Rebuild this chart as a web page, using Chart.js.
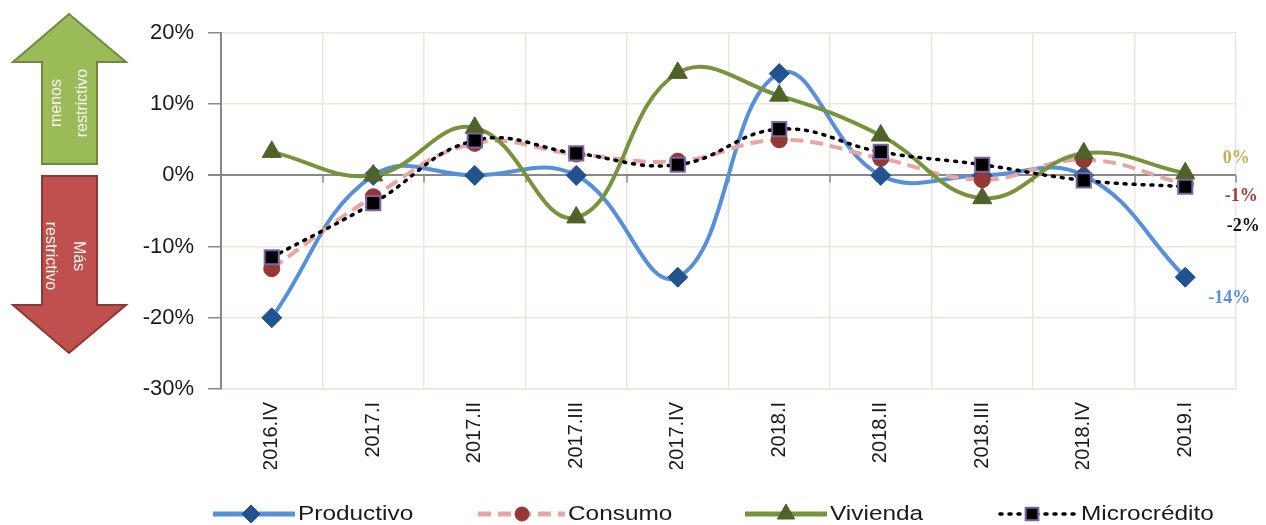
<!DOCTYPE html>
<html>
<head>
<meta charset="utf-8">
<script src="https://cdn.jsdelivr.net/npm/chart.js@4.4.1/dist/chart.umd.min.js"></script>
<style>
  html, body { margin: 0; padding: 0; background: #fff; }
</style>
</head>
<body>
<canvas id="chart" width="1266" height="525"></canvas>
<script>
'use strict';

// categories (quarters)
let quarters = ['2016.IV', '2017.I', '2017.II', '2017.III', '2017.IV', '2018.I', '2018.II', '2018.III', '2018.IV', '2019.I'];

// series values (% balance)
let productivo = [-20, 0, 0, 0, -14.3, 14.3, 0, 0, 0, -14.3];
let consumo = [-13.1, -3, 4.5, 3, 2, 5, 2.4, -0.6, 2.2, -1.2];
let vivienda = [3.3, 0, 6.7, -5.9, 14.4, 11.2, 5.6, -3.2, 3.1, 0.3];
let microcredito = [-11.5, -3.9, 4.9, 3.1, 1.5, 6.5, 3.3, 1.5, -0.7, -1.6];

// y axis range / ticks
let yMin = -30;
let yMax = 20;
let yStep = 10;

// legend + arrow texts
let seriesNames = ['Productivo', 'Consumo', 'Vivienda', 'Microcrédito'];
let upText = ['menos', 'restrictivo'];
let downText = ['Más', 'restrictivo'];

let gridColor = '#ebe7da';
let axisColor = '#888888';

// style for each series
let styles = [
    { line: '#5690d8', point: '#23538f', dash: [], shape: 'rectRot', r: 10, pBorder: '#23538f', pBw: 1 },
    { line: '#e7a5a3', point: '#953735', dash: [13, 7], shape: 'circle', r: 8, pBorder: '#953735', pBw: 1 },
    { line: '#77933c', point: '#4f6228', dash: [], shape: 'triangle', r: 11, pBorder: '#4f6228', pBw: 1 },
    { line: '#000000', point: '#000000', dash: [2, 7], shape: 'rect', r: 10, pBorder: '#8064a2', pBw: 2 }
];

// label color at the end of each line + offset from the last point
let endLabels = [
    { color: '#5b8fdc', dx: 44, dy: 21 },
    { color: '#a23b38', dx: 56, dy: 12 },
    { color: '#bdb45a', dx: 51, dy: -15 },
    { color: '#111111', dx: 58, dy: 40 }
];

let allData = [productivo, consumo, vivienda, microcredito];

function drawShape(ctx, pts, fill, stroke) {
    ctx.beginPath();
    ctx.moveTo(pts[0][0], pts[0][1]);
    for (let i = 1; i < pts.length; i++) {
        ctx.lineTo(pts[i][0], pts[i][1]);
    }
    ctx.closePath();
    ctx.fillStyle = fill;
    ctx.fill();
    ctx.lineWidth = 2;
    ctx.strokeStyle = stroke;
    ctx.stroke();
}

function stretchText(ctx, text, x, y, sx) {
    ctx.save();
    ctx.translate(x, y);
    ctx.scale(sx, 1);
    ctx.fillText(text, 0, 0);
    ctx.restore();
}

let extras = {
    id: 'extras',
    beforeDraw(chart) {
        let ctx = chart.ctx;
        ctx.save();
        ctx.fillStyle = '#fff';
        ctx.fillRect(0, 0, chart.width, chart.height);

        // green arrow (up) and red arrow (down)
        drawShape(ctx, [[42, 164], [42, 62], [13, 62], [69, 14], [126, 62], [97, 62], [97, 164]], '#9bbb59', '#71893f');
        drawShape(ctx, [[42, 176], [97, 176], [97, 305], [126, 305], [69, 353], [13, 305], [42, 305]], '#c0504d', '#8c3836');

        ctx.fillStyle = '#f6f6f0';
        ctx.font = '16px "Liberation Sans", Arial, sans-serif';
        ctx.textAlign = 'center';
        ctx.textBaseline = 'middle';

        ctx.save();
        ctx.translate(70, 103);
        ctx.rotate(-Math.PI / 2);
        ctx.fillText(upText[0], 0, -13);
        ctx.fillText(upText[1], 0, 13);
        ctx.restore();

        ctx.save();
        ctx.translate(64, 256);
        ctx.rotate(Math.PI / 2);
        ctx.fillText(downText[0], 0, -14);
        ctx.fillText(downText[1], 0, 14);
        ctx.restore();

        ctx.restore();
    },
    beforeDatasetsDraw(chart) {
        // small tick marks under the zero line, between categories
        let ctx = chart.ctx;
        let area = chart.chartArea;
        let y0 = chart.scales.y.getPixelForValue(0);
        let w = area.width / quarters.length;
        ctx.save();
        ctx.strokeStyle = axisColor;
        ctx.lineWidth = 1.5;
        for (let i = 1; i <= quarters.length; i++) {
            let x = Math.round(area.left + i * w);
            ctx.beginPath();
            ctx.moveTo(x, y0);
            ctx.lineTo(x, y0 + 7);
            ctx.stroke();
        }
        ctx.restore();
    },
    afterDraw(chart) {
        let ctx = chart.ctx;
        ctx.save();

        // value labels at the end of each line
        ctx.font = 'bold 18px "Liberation Serif", "Times New Roman", serif';
        ctx.textAlign = 'center';
        ctx.textBaseline = 'middle';
        for (let i = 0; i < allData.length; i++) {
            let meta = chart.getDatasetMeta(i);
            let last = meta.data[meta.data.length - 1];
            let v = Math.round(allData[i][allData[i].length - 1]);
            if (v === 0) v = 0;
            ctx.fillStyle = endLabels[i].color;
            ctx.fillText(v + '%', last.x + endLabels[i].dx, last.y + endLabels[i].dy);
        }

        // legend
        let legendY = 514;
        let items = [
            { x1: 213, x2: 295, mx: 251, tx: 298 },
            { x1: 478, x2: 565, mx: 522, tx: 568 },
            { x1: 1000, x2: 1075, mx: 1032, tx: 1081 }
        ];
        items.splice(2, 0, { x1: 745, x2: 827, mx: 786, tx: 830 });
        for (let i = 0; i < items.length; i++) {
            let it = items[i];
            let st = styles[i];
            ctx.save();
            ctx.strokeStyle = st.line;
            ctx.lineWidth = i === 3 ? 3.5 : 5;
            ctx.setLineDash(st.dash);
            ctx.lineCap = i === 3 ? 'round' : 'butt';
            ctx.beginPath();
            ctx.moveTo(it.x1, legendY);
            ctx.lineTo(it.x2, legendY);
            ctx.stroke();
            ctx.restore();

            ctx.fillStyle = st.point;
            ctx.strokeStyle = st.pBorder;
            ctx.lineWidth = st.pBw;
            Chart.helpers.drawPoint(ctx, { pointStyle: st.shape, radius: st.r - 1, rotation: 0, borderWidth: st.pBw }, it.mx, legendY);

            ctx.fillStyle = '#1a1a1a';
            ctx.font = '20px "Liberation Sans", Arial, sans-serif';
            ctx.textAlign = 'left';
            ctx.textBaseline = 'middle';
            stretchText(ctx, seriesNames[i], it.tx, legendY, 1.22);
        }
        ctx.restore();
    }
};

let datasets = [];
for (let i = 0; i < allData.length; i++) {
    let st = styles[i];
    datasets.push({
        label: seriesNames[i],
        data: allData[i],
        borderColor: st.line,
        borderWidth: i === 3 ? 3.5 : 4,
        borderDash: st.dash,
        borderCapStyle: i === 3 ? 'round' : 'butt',
        tension: 0.42,
        pointStyle: st.shape,
        pointRadius: st.r,
        pointHoverRadius: st.r,
        pointBackgroundColor: st.point,
        pointBorderColor: st.pBorder,
        pointBorderWidth: st.pBw,
        fill: false,
        order: 4 - i
    });
}

let ctx = document.getElementById('chart').getContext('2d');
new Chart(ctx, {
    type: 'line',
    data: {
        labels: quarters,
        datasets: datasets
    },
    options: {
        responsive: false,
        animation: false,
        layout: {
            padding: { left: 120, right: 30, top: 33, bottom: 56 }
        },
        plugins: {
            legend: { display: false },
            tooltip: { enabled: false }
        },
        scales: {
            x: {
                offset: true,
                grid: {
                    offset: true,
                    color: gridColor,
                    lineWidth: 1.5,
                    drawTicks: false
                },
                border: { color: gridColor, width: 1.5 },
                ticks: {
                    minRotation: 90,
                    maxRotation: 90,
                    padding: 13,
                    color: '#1a1a1a',
                    font: { family: '"Liberation Sans", Arial, sans-serif', size: 20 }
                },
                afterFit: function (scale) { scale.height = 80; }
            },
            y: {
                min: yMin,
                max: yMax,
                grid: {
                    color: (c) => c.tick && c.tick.value === 0 ? axisColor : gridColor,
                    lineWidth: (c) => c.tick && c.tick.value === 0 ? 2 : 1.5,
                    tickColor: axisColor,
                    tickLength: 13
                },
                border: { color: axisColor, width: 2 },
                ticks: {
                    stepSize: yStep,
                    padding: 14,
                    color: '#1a1a1a',
                    font: { family: '"Liberation Sans", Arial, sans-serif', size: 22 },
                    callback: (v) => v + '%'
                },
                afterFit: function (scale) { scale.width = 101; }
            }
        }
    },
    plugins: [extras]
});
</script>
</body>
</html>
